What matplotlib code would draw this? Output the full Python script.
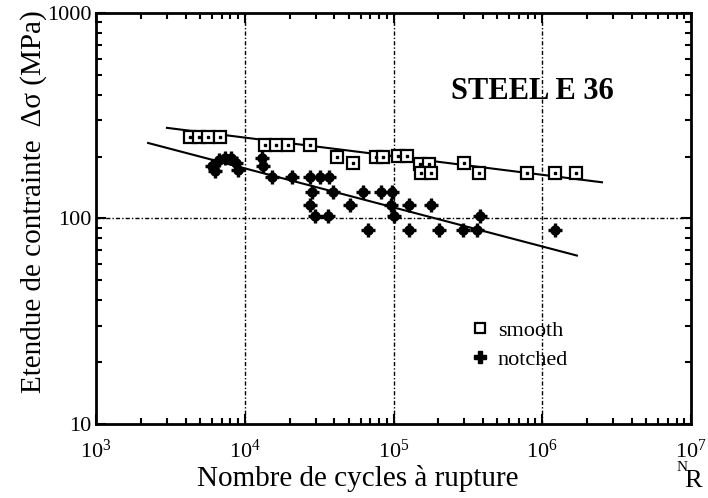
import numpy as np
import matplotlib
matplotlib.use("Agg")
import matplotlib.pyplot as plt
from matplotlib.lines import Line2D

plt.rcParams['font.family'] = ['Liberation Serif', 'DejaVu Serif']
plt.rcParams['mathtext.fontset'] = 'custom'
plt.rcParams['mathtext.rm'] = 'Liberation Serif'
plt.rcParams['mathtext.it'] = 'Liberation Serif:italic'

# smooth specimens: cycles to failure, stress range (MPa)
smooth_n = [4290, 4930, 5660, 6820, 13700, 16200, 19500, 27500, 41700, 53400,
            76300, 85000, 107000, 123000, 151000, 173000, 153000, 179000,
            298000, 376000, 789000, 1220000, 1690000]
smooth_s = [249, 249, 249, 249, 228, 228, 228, 228, 199, 186,
            199, 199, 201, 201, 184, 184, 166, 166,
            186, 166, 166, 166, 166]

# notched specimens
notched_n = [6030, 6710, 7370, 8080, 8740, 6310, 9010,
             13100, 13300, 15300, 20800,
             27500, 32100, 36900,
             28300, 39200, 62400, 82400, 97700,
             27500, 51000, 96200, 127000, 179000,
             29700, 36300, 101000, 381000,
             67400, 127000, 202000, 293000, 364000, 1220000]
notched_s = [180, 193, 197, 197, 186, 170, 172,
             197, 180, 159, 159,
             159, 159, 159,
             135, 135, 135, 135, 135,
             116, 116, 116, 116, 116,
             103, 103, 103, 103,
             88, 88, 88, 88, 88, 88]

# fitted lines (end points)
smooth_fit_n = [3000, 2520000]
smooth_fit_s = [276, 150]
notched_fit_n = [2240, 1710000]
notched_fit_s = [233, 66]

fig = plt.figure(figsize=(7.08, 4.98), dpi=100)
ax = fig.add_axes([0.1356, 0.1486, 0.8404, 0.8254])
ax.set_xscale('log')
ax.set_yscale('log')
ax.set_xlim(1e3, 1e7)
ax.set_ylim(10, 1000)

grid_style = (0, (3, 1.5, 1, 1.5))
for gx in [1e4, 1e5, 1e6]:
    ax.axvline(gx, color='black', lw=1.0, ls=grid_style, zorder=1)
ax.axhline(100, color='black', lw=1.0, ls=grid_style, zorder=1)

ax.plot(smooth_fit_n, smooth_fit_s, color='black', lw=1.5, zorder=2)
ax.plot(notched_fit_n, notched_fit_s, color='black', lw=1.5, zorder=2)

ax.plot(smooth_n, smooth_s, ls='none', marker='s', ms=8, mfc='white',
        mec='black', mew=1.6, zorder=3)
ax.plot(smooth_n, smooth_s, ls='none', marker='s', ms=2, mfc='black',
        mec='black', zorder=4)

ax.plot(notched_n, notched_s, ls='none', marker='o', ms=6.5, mfc='black',
        mec='black', zorder=3)
ax.plot(notched_n, notched_s, ls='none', marker='+', ms=10.5, mew=2.4,
        color='black', zorder=3)

for side in ['left', 'right', 'top', 'bottom']:
    ax.spines[side].set_linewidth(2)

ax.tick_params(which='both', direction='in', top=True, right=True, width=1.5)
ax.tick_params(which='major', length=7, labelsize=16)
ax.tick_params(which='minor', length=4)
ax.tick_params(axis='x', which='major', pad=11)
ax.tick_params(axis='y', which='major', pad=3)

ax.set_yticks([10, 100, 1000])
ax.set_yticklabels(['10', '100', '1000'])
ax.set_xticks([1e3, 1e4, 1e5, 1e6, 1e7])
ax.set_xticklabels([r'$10^3$', r'$10^4$', r'$10^5$', r'$10^6$', r'$10^7$'])

ax.set_ylabel('Etendue de contrainte  Δσ (MPa)', fontsize=21)
ax.yaxis.set_label_coords(-0.082, 0.54)
ax.set_xlabel('Nombre de cycles à rupture', fontsize=21)
ax.xaxis.set_label_coords(0.44, -0.1)

ax.text(0.733, 0.81, 'STEEL E 36', transform=ax.transAxes, fontsize=22,
        fontweight='bold', ha='center', va='center')

fig.text(0.966, 0.012, 'R', fontsize=19, ha='left', va='bottom')
fig.text(0.955, 0.074, 'N', fontsize=11, ha='left', va='top')

handles = [
    Line2D([], [], ls='none', marker='s', ms=7, mfc='white', mec='black', mew=1.6),
    Line2D([], [], ls='none', marker='P', ms=9, color='black'),
]
ax.legend(handles, ['smooth', 'notched'], loc='upper left',
          bbox_to_anchor=(0.627, 0.253), frameon=False, fontsize=16,
          handletextpad=0.3, labelspacing=0.4, handlelength=1.0,
          borderpad=0, borderaxespad=0)

fig.savefig('out.png', dpi=100)
